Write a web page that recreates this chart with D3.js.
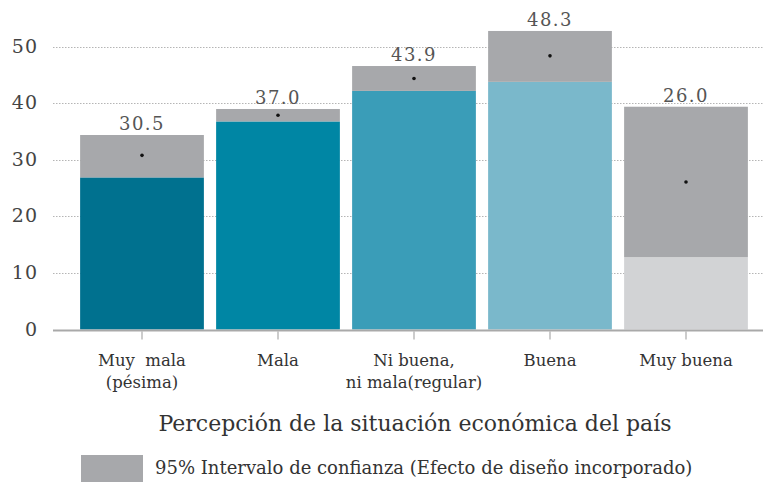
<!DOCTYPE html>
<html>
<head>
<meta charset="utf-8">
<script src="https://cdn.jsdelivr.net/npm/d3@7"></script>
<style>
  body { margin: 0; background: #fff; }
  text { font-family: "DejaVu Serif", "Liberation Serif", serif; }
</style>
</head>
<body>
<div id="chart"></div>
<script>
var width = 763;
var height = 482;

var categories = ["Muy  mala|(pésima)", "Mala", "Ni buena,|ni mala(regular)", "Buena", "Muy buena"];
var estimate = [30.8, 37.9, 44.4, 48.4, 26.1];
var lower = [26.9, 36.8, 42.2, 43.8, 12.8];
var upper = [34.4, 39.0, 46.6, 52.8, 39.4];
var valueLabels = ["30.5", "37.0", "43.9", "48.3", "26.0"];
var colors = ["#00718f", "#0086a4", "#3a9db8", "#7ab8cb", "#d2d3d5"];
var yTicks = [0, 10, 20, 30, 40, 50];

var data = categories.map(function(c, i) {
  return { cat: c, est: estimate[i], lo: lower[i], hi: upper[i], label: valueLabels[i], color: colors[i] };
});

var svg = d3.select("#chart")
            .append("svg")
            .attr("width", width)
            .attr("height", height);

var x = d3.scaleBand()
          .domain(categories)
          .range([74, 754])
          .paddingInner(0.09)
          .paddingOuter(0.045);

var y = d3.scaleLinear()
          .domain([0, 50])
          .range([329.5, 46.8]);

// grid lines
svg.append("g")
   .selectAll("line")
   .data(yTicks.slice(1))
   .enter()
   .append("line")
   .attr("x1", 53)
   .attr("x2", width)
   .attr("y1", function(d) { return Math.round(y(d)) + 0.5; })
   .attr("y2", function(d) { return Math.round(y(d)) + 0.5; })
   .attr("stroke", "#b5b5b5")
   .attr("stroke-width", 1)
   .attr("stroke-dasharray", "1.5,1.5");

// y labels
svg.append("g")
   .selectAll("text")
   .data(yTicks)
   .enter()
   .append("text")
   .attr("x", 38)
   .attr("y", function(d) { return y(d) + 6; })
   .attr("text-anchor", "end")
   .attr("font-size", "19px")
   .attr("letter-spacing", "1px")
   .attr("fill", "#444")
   .text(function(d) { return d; });

var bars = svg.append("g");

// colored part up to lower bound
bars.selectAll("rect.base")
    .data(data)
    .enter()
    .append("rect")
    .attr("class", "base")
    .attr("x", function(d) { return x(d.cat); })
    .attr("width", x.bandwidth())
    .attr("y", function(d) { return y(d.lo); })
    .attr("height", function(d) { return y(0) - y(d.lo); })
    .attr("fill", function(d) { return d.color; });

// confidence interval
bars.selectAll("rect.ci")
    .data(data)
    .enter()
    .append("rect")
    .attr("class", "ci")
    .attr("x", function(d) { return x(d.cat); })
    .attr("width", x.bandwidth())
    .attr("y", function(d) { return y(d.hi); })
    .attr("height", function(d) { return y(d.lo) - y(d.hi); })
    .attr("fill", "#a7a8ab");

// point estimates
bars.selectAll("circle")
    .data(data)
    .enter()
    .append("circle")
    .attr("cx", function(d) { return x(d.cat) + x.bandwidth() / 2; })
    .attr("cy", function(d) { return y(d.est); })
    .attr("r", 1.8)
    .attr("fill", "#111");

// value labels
bars.selectAll("text")
    .data(data)
    .enter()
    .append("text")
    .attr("x", function(d) { return x(d.cat) + x.bandwidth() / 2; })
    .attr("y", function(d) { return y(d.hi) - 5; })
    .attr("text-anchor", "middle")
    .attr("font-size", "18px")
    .attr("letter-spacing", "1.5px")
    .attr("fill", "#555")
    .text(function(d) { return d.label; });

// baseline
svg.append("line")
   .attr("x1", 53)
   .attr("x2", width)
   .attr("y1", y(0) + 1)
   .attr("y2", y(0) + 1)
   .attr("stroke", "#a9a9a9")
   .attr("stroke-width", 2);

// x ticks + labels
var xg = svg.append("g")
            .selectAll("g")
            .data(categories)
            .enter()
            .append("g")
            .attr("transform", function(d) { return "translate(" + (x(d) + x.bandwidth() / 2) + ",0)"; });

xg.append("line")
  .attr("y1", y(0) + 2)
  .attr("y2", y(0) + 10)
  .attr("stroke", "#999");

xg.selectAll("text")
  .data(function(d) { return d.split("|"); })
  .enter()
  .append("text")
  .attr("y", function(d, i) { return 366 + i * 22; })
  .attr("text-anchor", "middle")
  .attr("font-size", "16.5px")
  .attr("fill", "#333")
  .style("white-space", "pre")
  .text(function(d) { return d; });

// axis title
svg.append("text")
   .attr("x", 415)
   .attr("y", 431)
   .attr("text-anchor", "middle")
   .attr("font-size", "22px")
   .attr("fill", "#333")
   .text("Percepción de la situación económica del país");

// legend
svg.append("rect")
   .attr("x", 81)
   .attr("y", 455)
   .attr("width", 62)
   .attr("height", 27)
   .attr("fill", "#a7a8ab");

svg.append("text")
   .attr("x", 155)
   .attr("y", 474)
   .attr("font-size", "18px")
   .attr("fill", "#333")
   .text("95% Intervalo de confianza (Efecto de diseño incorporado)");
</script>
</body>
</html>
